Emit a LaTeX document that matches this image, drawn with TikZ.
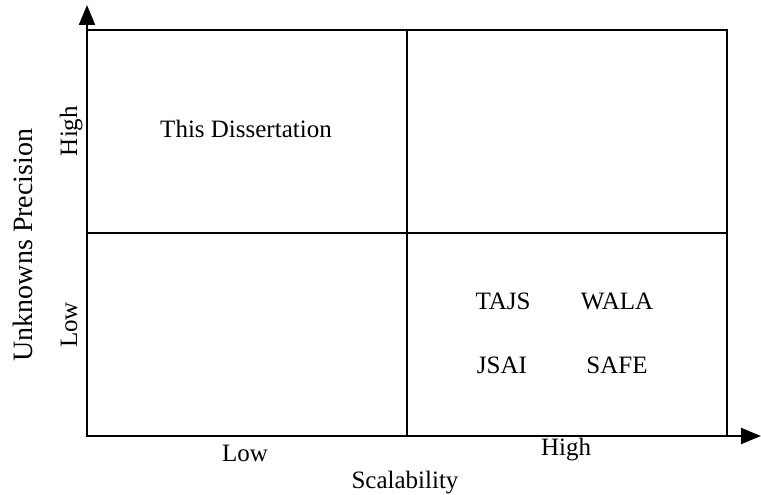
\documentclass[tikz,border=0pt]{standalone}
\usepackage{fontspec}
\setmainfont{Liberation Serif}
\usetikzlibrary{arrows.meta}
\begin{document}
\begin{tikzpicture}[x=1pt,y=-1pt,
  grid/.style={line width=2pt},
  axis/.style={line width=2pt,-{Triangle[length=20pt,width=16pt]}},
  lbl/.style={font=\fontsize{25}{28}\selectfont,anchor=base,inner sep=0pt},
  vlbl/.style={lbl,rotate=90}]
\useasboundingbox (0,0) rectangle (761,495);
% quadrant frame
\coordinate (origin) at (87,436);
\coordinate (ytop) at (87,5);
\coordinate (xend) at (761,436);
\draw[grid] (87,30) rectangle (727,436);
\draw[grid] (407,30) -- (407,436);
\draw[grid] (87,233) -- (727,233);
% axes
\draw[axis] (origin) -- (ytop);
\draw[axis] (origin) -- (xend);
% quadrant contents
\node[lbl] (diss) at (246,137) {This Dissertation};
\node[lbl] (tajs) at (503,309) {TAJS};
\node[lbl] (wala) at (617,309) {WALA};
\node[lbl] (jsai) at (502,373) {JSAI};
\node[lbl] (safe) at (617,373) {SAFE};
% axis labels
\node[lbl] (xlow) at (245,461) {Low};
\node[lbl] (xhigh) at (566,455) {High};
\node[lbl] (xname) at (405,488) {Scalability};
\node[vlbl] (ylow) at (77,325) {Low};
\node[vlbl] (yhigh) at (77,131) {High};
\node[vlbl,font=\fontsize{28}{32}\selectfont] (yname) at (32,245) {Unknowns Precision};
\end{tikzpicture}
\end{document}
